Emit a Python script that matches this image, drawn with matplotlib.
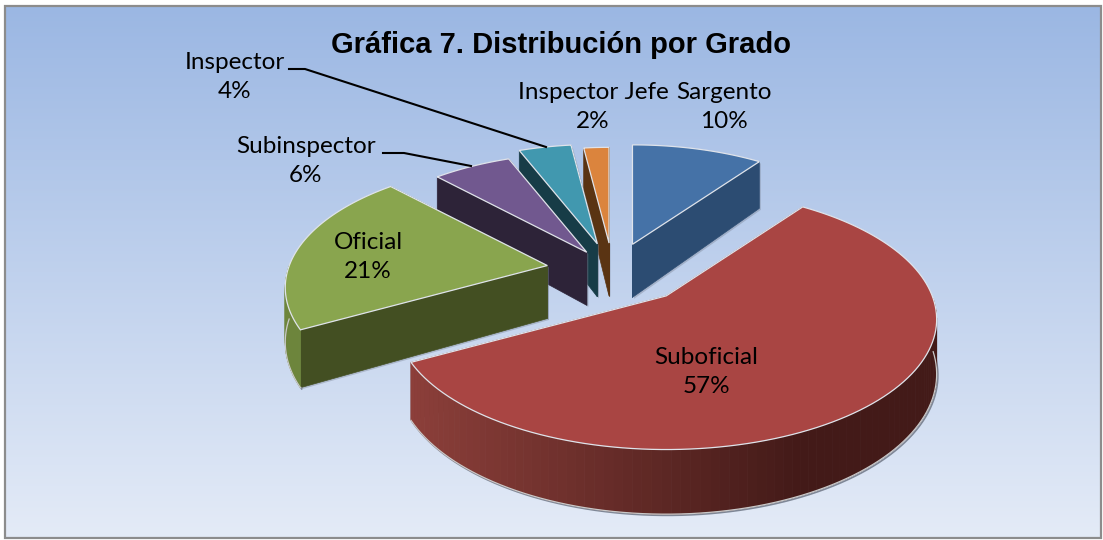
import numpy as np
import matplotlib
matplotlib.use('Agg')
import matplotlib.pyplot as plt
from matplotlib.colors import to_rgb
from matplotlib.patches import Polygon, Rectangle

grados = ['Sargento', 'Suboficial', 'Oficial', 'Subinspector', 'Inspector', 'Inspector Jefe']
porcentajes = [10, 57, 21, 6, 4, 2]

# pie geometry, in pixels
cx, cy = 613, 270
rx, ry = 266, 126
persp = 0.18
depth = 53
ex, ey = 70, 30
explode = [0.9, 1.15, 0.95, 0.7, 0.9, 0.9]
radius = [0.92, 1.0, 0.97, 0.92, 0.92, 0.88]

top_colors = ['#4572a7', '#a94543', '#89a54e', '#71588f', '#4198af', '#db843d']
wall_colors = ['#2c4c72', '#5e2624', '#434f22', '#2d2338', '#173c47', '#5a3413']
arc_colors = [('#2c4c72', '#2c4c72'), ('#8c3f3a', '#431a18'), ('#6d853c', '#6d853c'),
              ('#2d2338', '#2d2338'), ('#173c47', '#173c47'), ('#5a3413', '#5a3413')]
label_pos = [(724, 107), (706, 372), (368, 257), (306, 161), (235, 77), (593, 107)]


def project(apex, r, theta, z=0.0):
    x = r * np.sin(theta)
    y = r * np.cos(theta)
    w = 1 + persp * y
    return apex[0] + rx * x / w, apex[1] - ry * y / w + z * depth / w


fig = plt.figure(figsize=(11.03, 5.4), dpi=100)
ax = fig.add_axes([0, 0, 1, 1])
ax.axis('off')

# panel background
grad = np.linspace(0, 1, 256).reshape(-1, 1, 1)
c0 = np.array(to_rgb('#9bb7e3'))
c1 = np.array(to_rgb('#e4ebf7'))
ax.imshow(c0 + (c1 - c0) * grad, extent=(5, 1101, 538, 6), aspect='auto', zorder=0)
ax.set_xlim(0, 1103)
ax.set_ylim(540, 0)
ax.add_patch(Rectangle((5, 6), 1096, 532, fill=False, ec='#8c8c8c', lw=1.6, zorder=1))

# slice angles from the values, clockwise from the top
edges = np.radians(np.cumsum([0] + porcentajes) * 3.6)
slices = []
for i in range(len(grados)):
    mid = (edges[i] + edges[i + 1]) / 2
    apex = (cx + ex * explode[i] * np.sin(mid), cy - ey * explode[i] * np.cos(mid))
    slices.append((apex, edges[i], edges[i + 1]))

z = 2
for i in [0, 5, 4, 3, 2, 1]:
    apex, a0, a1 = slices[i]
    r = radius[i]
    ang = np.linspace(a0, a1, 120)
    tx, ty = project(apex, r, ang)
    bx, by = project(apex, r, ang, 1.0)
    # only the part of the rim that faces the viewer
    front = np.cos(ang) < 0.0

    # radial walls
    for a in (a0, a1):
        x1, y1 = project(apex, r, a)
        x2, y2 = project(apex, r, a, 1.0)
        wall = [(apex[0], apex[1]), (x1, y1), (x2, y2), (apex[0], apex[1] + depth)]
        ax.add_patch(Polygon(wall + np.array([1.5, 1.5]), closed=True, fc='#6f7787', ec='none', alpha=0.35, zorder=z))
        ax.add_patch(Polygon(wall, closed=True, fc=wall_colors[i], ec=wall_colors[i], lw=0.5, zorder=z + 1))
    z += 2

    # outer wall, strip by strip
    c_left = np.array(to_rgb(arc_colors[i][0]))
    c_right = np.array(to_rgb(arc_colors[i][1]))
    if front.any():
        ax.plot(bx[front] + 1.2, by[front] + 1.2, color='#7f8796', lw=1.2, zorder=z)
    for k in range(len(ang) - 1):
        if not front[k]:
            continue
        mx = (tx[k] + tx[k + 1]) / 2
        t = np.clip((mx - 410) / 390, 0, 1)
        col = c_left + (c_right - c_left) * t
        quad = [(tx[k], ty[k]), (tx[k + 1], ty[k + 1]), (bx[k + 1], by[k + 1]), (bx[k], by[k])]
        ax.add_patch(Polygon(quad, closed=True, fc=col, ec=col, lw=0.6, zorder=z + 1))
    z += 2
    if front.any():
        ax.plot(bx[front], by[front], color='#c9c9c9', lw=0.9, zorder=z)
    z += 1

    # top face
    top = np.vstack([[apex[0], apex[1]], np.column_stack([tx, ty])])
    ax.add_patch(Polygon(top, closed=True, fc=top_colors[i], ec='#dfe3ea', lw=0.9, zorder=z))
    z += 1

# leader lines
ax.plot([289, 305, 546], [69, 69, 147], color='black', lw=1.5, zorder=z)
ax.plot([383, 404, 471], [153, 153, 166], color='black', lw=1.5, zorder=z)

for i, (x, y) in enumerate(label_pos):
    ax.text(x, y, '{}\n{}%'.format(grados[i], porcentajes[i]), ha='center', va='center',
            family='Lato', fontsize=17.5, linespacing=1.5, color='black', zorder=z + 1)

ax.text(561, 45, 'Gráfica 7. Distribución por Grado', ha='center', va='center',
        family='Liberation Sans', fontweight='bold', fontsize=21, color='black', zorder=z + 1)

fig.savefig('out.png', dpi=100, facecolor='white')
